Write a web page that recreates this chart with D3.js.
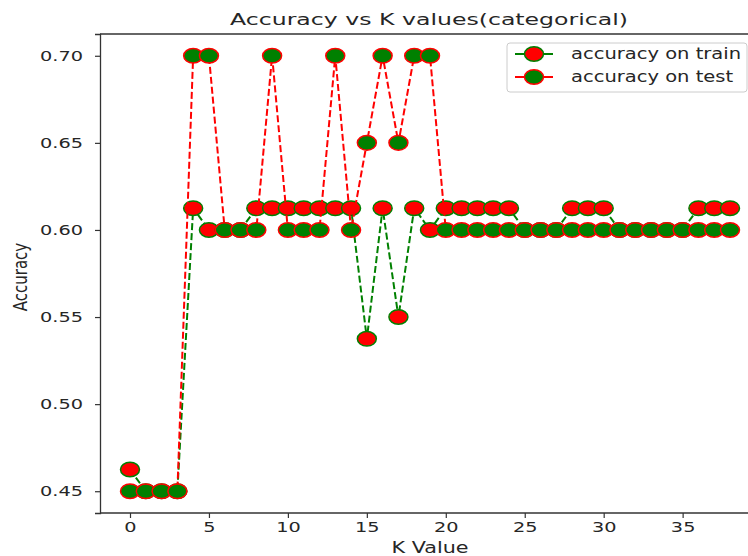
<!DOCTYPE html>
<html>
<head>
<meta charset="utf-8">
<script src="https://cdn.jsdelivr.net/npm/d3@7"></script>
<style>
  body { margin: 0; background: #fff; }
  text { font-family: "DejaVu Sans", sans-serif; fill: #262626; }
</style>
</head>
<body>
<svg id="chart" width="748" height="556"></svg>
<script>
// data
var kValues = d3.range(0, 39)
var trainAcc = [0.4625, 0.45, 0.45, 0.45, 0.6125, 0.60, 0.60, 0.60, 0.6125, 0.6125,
  0.6125, 0.6125, 0.6125, 0.6125, 0.6125, 0.5375, 0.6125, 0.55, 0.6125, 0.60,
  0.6125, 0.6125, 0.6125, 0.6125, 0.6125, 0.60, 0.60, 0.60, 0.6125, 0.6125,
  0.6125, 0.60, 0.60, 0.60, 0.60, 0.60, 0.6125, 0.6125, 0.6125]
var testAcc = [0.45, 0.45, 0.45, 0.45, 0.70, 0.70, 0.60, 0.60, 0.60, 0.70,
  0.60, 0.60, 0.60, 0.70, 0.60, 0.65, 0.70, 0.65, 0.70, 0.70,
  0.60, 0.60, 0.60, 0.60, 0.60, 0.60, 0.60, 0.60, 0.60, 0.60,
  0.60, 0.60, 0.60, 0.60, 0.60, 0.60, 0.60, 0.60, 0.60]
var xTicks = [0, 5, 10, 15, 20, 25, 30, 35]
var yTicks = [0.45, 0.50, 0.55, 0.60, 0.65, 0.70]
var seriesNames = ["accuracy on train", "accuracy on test"]

var svg = d3.select("#chart")

// the picture was widened, so the text is stretched sideways
function widen(sel, k) {
  sel.each(function () {
    var w = this.getComputedTextLength()
    this.setAttribute("textLength", w * k)
    this.setAttribute("lengthAdjust", "spacingAndGlyphs")
  })
}

var axLeft = 100, axRight = 760, axTop = 34, axBottom = 513

var x = d3.scaleLinear()
  .domain([-1.9, 39.9])
  .range([axLeft, axRight])

var y = d3.scaleLinear()
  .domain([0.4375, 0.7125])
  .range([axBottom, axTop])

// spines
svg.append("line").attr("x1", axLeft).attr("x2", 748).attr("y1", axTop).attr("y2", axTop)
  .attr("stroke", "#333").attr("stroke-width", 1.3)

var xAxis = svg.append("g")
  .attr("transform", "translate(0," + axBottom + ")")
  .call(d3.axisBottom(x).tickValues(xTicks).tickSize(5).tickPadding(4).tickFormat(d3.format("d")))
xAxis.select(".domain").attr("d", "M" + axLeft + ",0H748")

var yAxis = svg.append("g")
  .attr("transform", "translate(" + axLeft + ",0)")
  .call(d3.axisLeft(y).tickValues(yTicks).tickSize(5).tickPadding(12).tickFormat(d3.format(".2f")))

svg.selectAll(".domain").attr("stroke", "#333").attr("stroke-width", 1.3)
svg.selectAll(".tick line").attr("stroke", "#333").attr("stroke-width", 1.2)
svg.selectAll(".tick text").attr("font-size", 14.5).attr("fill", "#262626")
  .style("font-family", "DejaVu Sans")
widen(svg.selectAll(".tick text"), 1.33)

// labels
var title = svg.append("text")
  .attr("x", 429).attr("y", 25)
  .attr("text-anchor", "middle")
  .attr("font-size", 16.5)
  .text("Accuracy vs K values(categorical)")
widen(title, 1.43)

var xlab = svg.append("text")
  .attr("x", 430).attr("y", 553)
  .attr("text-anchor", "middle")
  .attr("font-size", 15)
  .text("K Value")
widen(xlab, 1.38)

svg.append("text")
  .attr("transform", "translate(27,277) scale(1.3,1) rotate(-90)")
  .attr("text-anchor", "middle")
  .attr("font-size", 15)
  .text("Accuracy")

// series: line colour, marker face, marker edge
var styles = [
  { line: "green", face: "red", edge: "green", values: trainAcc },
  { line: "red", face: "green", edge: "red", values: testAcc }
]

var line = d3.line()
  .x(function (d) { return x(d[0]) })
  .y(function (d) { return y(d[1]) })

styles.forEach(function (s) {
  var pts = kValues.map(function (k, i) { return [k, s.values[i]] })
  var g = svg.append("g")
  g.append("path")
    .attr("d", line(pts))
    .attr("fill", "none")
    .attr("stroke", s.line)
    .attr("stroke-width", 2)
    .attr("stroke-dasharray", "7,3")
  g.selectAll("ellipse")
    .data(pts)
    .enter().append("ellipse")
    .attr("cx", function (d) { return x(d[0]) })
    .attr("cy", function (d) { return y(d[1]) })
    .attr("rx", 9.5)
    .attr("ry", 7.3)
    .attr("fill", s.face)
    .attr("stroke", s.edge)
    .attr("stroke-width", 1.5)
})

// legend
var legend = svg.append("g")
legend.append("rect")
  .attr("x", 507).attr("y", 43)
  .attr("width", 240).attr("height", 49)
  .attr("rx", 3)
  .attr("fill", "white").attr("fill-opacity", 0.8)
  .attr("stroke", "#ccc")

styles.forEach(function (s, i) {
  var ly = 54 + i * 23
  legend.append("line")
    .attr("x1", 515).attr("x2", 553).attr("y1", ly).attr("y2", ly)
    .attr("stroke", s.line).attr("stroke-width", 2)
  legend.append("ellipse")
    .attr("cx", 534).attr("cy", ly)
    .attr("rx", 9.5).attr("ry", 7.3)
    .attr("fill", s.face).attr("stroke", s.edge).attr("stroke-width", 1.5)
  var t = legend.append("text")
    .attr("x", 571).attr("y", ly + 5)
    .attr("font-size", 15)
    .text(seriesNames[i])
  widen(t, 1.3)
})
</script>
</body>
</html>
